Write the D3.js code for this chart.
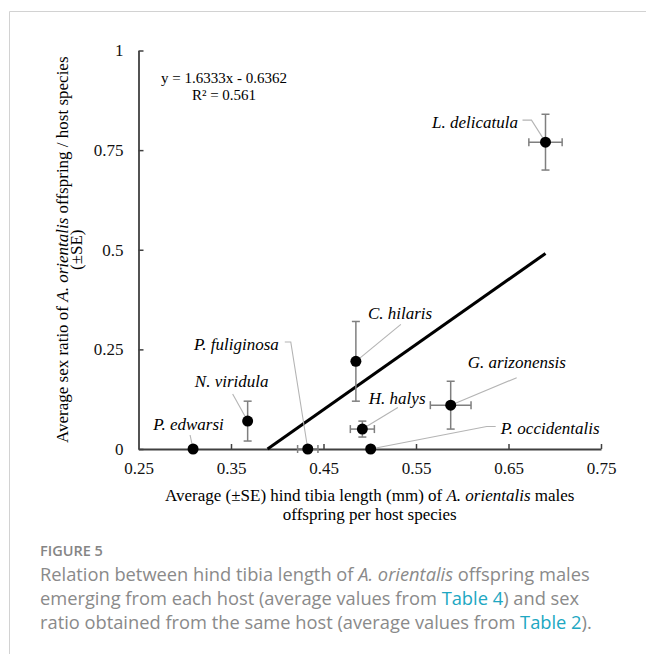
<!DOCTYPE html>
<html>
<head>
<meta charset="utf-8">
<script src="https://cdn.jsdelivr.net/npm/d3@7"></script>
<style>
  body { margin: 0; background: #fff; }
  svg text { font-family: "Liberation Serif", "Times New Roman", serif; }
  .caption { font-family: "Open Sans", "Noto Sans", sans-serif; }
</style>
</head>
<body>
<svg id="chart" width="646" height="654"></svg>
<script>
const hosts  = ["P. edwarsi", "N. viridula", "P. fuliginosa", "C. hilaris", "H. halys", "G. arizonensis", "P. occidentalis", "L. delicatula"]
const tibia   = [0.309, 0.368, 0.433, 0.485, 0.492, 0.5875, 0.501, 0.690]
const tibiaSE = [0, 0, 0.011, 0, 0.013, 0.022, 0, 0.018]
const sexRatio   = [0, 0.07, 0, 0.22, 0.05, 0.11, 0, 0.77]
const sexRatioSE = [0, 0.05, 0, 0.10, 0.02, 0.06, 0, 0.07]

const xTicks = [0.25, 0.35, 0.45, 0.55, 0.65, 0.75]
const yTicks = [0, 0.25, 0.5, 0.75, 1]

// linear trendline
const slope = 1.6333, intercept = -0.6362, r2 = 0.561

// label placement relative to each point (px): text anchor, text offset, leader path
const labelLayout = [
  { anchor: "middle", dx: -4.5, dy: -25, leader: [[-3, -14]] },
  { anchor: "middle", dx: -16, dy: -40, leader: [[-15, -27]] },
  { anchor: "end", dx: -29, dy: -105, leader: [[-23, -107], [-17, -107]] },
  { anchor: "start", dx: 12, dy: -48, leader: [[45, -37]] },
  { anchor: "start", dx: 6.5, dy: -31.5, leader: [[35.5, -21.5]] },
  { anchor: "start", dx: 17, dy: -43, leader: [[66, -27.5]] },
  { anchor: "start", dx: 130, dy: -21, leader: [[125, -22.5], [116, -22.5]] },
  { anchor: "end", dx: -27.5, dy: -20, leader: [[-23, -22], [-14, -22]] },
]

const points = hosts.map((h, i) => ({
  host: h, x: tibia[i], xse: tibiaSE[i], y: sexRatio[i], yse: sexRatioSE[i], lab: labelLayout[i]
}))

const svg = d3.select("#chart")
const margin = { left: 138.5, right: 45, top: 50.5, bottom: 205 }
const W = 646, H = 654
const FS = "17px"

const x = d3.scaleLinear().domain([0.25, 0.75]).range([margin.left, W - margin.right])
const y = d3.scaleLinear().domain([0, 1]).range([H - margin.bottom, margin.top])

// frame lines
svg.append("path")
  .attr("d", `M9.5,${H} V11.5 H${W}`)
  .attr("fill", "none").attr("stroke", "#d2d2d2").attr("stroke-width", 1)

// axes
const xAxis = svg.append("g")
  .attr("transform", `translate(0,${y(0)})`)
  .call(d3.axisBottom(x).tickValues(xTicks).tickSizeInner(-5).tickSizeOuter(0).tickPadding(13)
    .tickFormat(d => d3.format(".2f")(d)))
const yAxis = svg.append("g")
  .attr("transform", `translate(${x(0.25)},0)`)
  .call(d3.axisLeft(y).tickValues(yTicks).tickSizeInner(-5).tickSizeOuter(0).tickPadding(15)
    .tickFormat(d => String(d)))

for (const g of [xAxis, yAxis]) {
  g.select(".domain").attr("stroke", "#404040").attr("stroke-width", 1.8)
  g.selectAll(".tick line").attr("stroke", "#404040").attr("stroke-width", 1.5)
  g.selectAll(".tick text").attr("fill", "#111").style("font-size", FS)
    .style("font-family", '"Liberation Serif", "Times New Roman", serif')
}
xAxis.selectAll(".tick").filter(d => d === 0.25).select("line").remove()

// trendline, clipped at y = 0
const xStart = -intercept / slope
const xEnd = d3.max(tibia)
svg.append("line")
  .attr("x1", x(xStart)).attr("y1", y(0))
  .attr("x2", x(xEnd)).attr("y2", y(slope * xEnd + intercept))
  .attr("stroke", "#000").attr("stroke-width", 3)

// leader lines
const lines = svg.append("g").attr("fill", "none").attr("stroke", "#b4b4b4").attr("stroke-width", 1.1)
points.forEach(p => {
  const px = x(p.x), py = y(p.y)
  const pts = p.lab.leader.map(([dx, dy]) => [px + dx, py + dy]).concat([[px, py]])
  lines.append("path").attr("d", d3.line()(pts))
})

// error bars
const eb = svg.append("g").attr("stroke", "#7f7f7f").attr("stroke-width", 1.5)
const cap = 4
points.forEach(p => {
  const px = x(p.x), py = y(p.y)
  if (p.yse > 0) {
    const y1 = y(p.y + p.yse), y2 = y(p.y - p.yse)
    eb.append("line").attr("x1", px).attr("x2", px).attr("y1", y1).attr("y2", y2)
    eb.append("line").attr("x1", px - cap).attr("x2", px + cap).attr("y1", y1).attr("y2", y1)
    eb.append("line").attr("x1", px - cap).attr("x2", px + cap).attr("y1", y2).attr("y2", y2)
  }
  if (p.xse > 0) {
    const x1 = x(p.x - p.xse), x2 = x(p.x + p.xse)
    eb.append("line").attr("x1", x1).attr("x2", x2).attr("y1", py).attr("y2", py)
    eb.append("line").attr("x1", x1).attr("x2", x1).attr("y1", py - cap).attr("y2", py + cap)
    eb.append("line").attr("x1", x2).attr("x2", x2).attr("y1", py - cap).attr("y2", py + cap)
  }
})

// points
svg.append("g").selectAll("circle")
  .data(points)
  .join("circle")
    .attr("cx", d => x(d.x))
    .attr("cy", d => y(d.y))
    .attr("r", 5.5)
    .attr("fill", "#000")

// species labels
svg.append("g").selectAll("text")
  .data(points)
  .join("text")
    .attr("x", d => x(d.x) + d.lab.dx)
    .attr("y", d => y(d.y) + d.lab.dy)
    .attr("dy", "0.35em")
    .attr("text-anchor", d => d.lab.anchor)
    .style("font-style", "italic")
    .style("font-size", FS)
    .text(d => d.host)

// equation
const eq = svg.append("g").attr("text-anchor", "middle").style("font-size", "15px")
eq.append("text").attr("x", 224).attr("y", 78).attr("dy", "0.35em")
  .text(`y = ${slope.toFixed(4)}x - ${Math.abs(intercept).toFixed(4)}`)
eq.append("text").attr("x", 224).attr("y", 95).attr("dy", "0.35em")
  .text(`R² = ${r2}`)

// axis titles
const xt = svg.append("text").attr("text-anchor", "middle").style("font-size", FS)
  .attr("x", (x.range()[0] + x.range()[1]) / 2)
const xl1 = xt.append("tspan").attr("x", xt.attr("x")).attr("y", 495).attr("dy", "0.35em")
xl1.append("tspan").text("Average (±SE) hind tibia length (mm) of ")
xl1.append("tspan").style("font-style", "italic").text("A. orientalis")
xl1.append("tspan").text(" males")
xt.append("tspan").attr("x", xt.attr("x")).attr("y", 514.5).attr("dy", "0.35em").text("offspring per host species")

const yc = (y.range()[0] + y.range()[1]) / 2
const yt = svg.append("text").attr("text-anchor", "middle").style("font-size", FS)
  .attr("transform", `translate(62,${yc}) rotate(-90)`)
const yl1 = yt.append("tspan").attr("x", 0).attr("y", 0).attr("dy", "0.35em")
yl1.append("tspan").text("Average sex ratio of ")
yl1.append("tspan").style("font-style", "italic").text("A. orientalis")
yl1.append("tspan").text(" offspring / host species")
yt.append("tspan").attr("x", 0).attr("y", 14.5).attr("dy", "0.35em").text("(±SE)")

// caption
const cap1 = svg.append("g").attr("class", "caption")
cap1.append("text").attr("class", "caption").attr("x", 40).attr("y", 551).attr("dy", "0.35em")
  .style("font-size", "14.5px").style("font-weight", 600).attr("fill", "#858585").text("FIGURE 5")
const captionLines = [
  [["Relation between hind tibia length of ", ""], ["A. orientalis", "i"], [" offspring males", ""]],
  [["emerging from each host (average values from ", ""], ["Table 4", "l"], [") and sex", ""]],
  [["ratio obtained from the same host (average values from ", ""], ["Table 2", "l"], [").", ""]],
]
captionLines.forEach((parts, i) => {
  const t = cap1.append("text").attr("class", "caption").attr("x", 40).attr("y", 574.5 + i * 24)
    .attr("dy", "0.35em").style("font-size", "18.3px").attr("fill", "#8a8a8a")
  parts.forEach(([s, k]) => {
    const ts = t.append("tspan").text(s)
    if (k === "i") ts.style("font-style", "italic")
    if (k === "l") ts.attr("fill", "#20a7c2")
  })
})
</script>
</body>
</html>
